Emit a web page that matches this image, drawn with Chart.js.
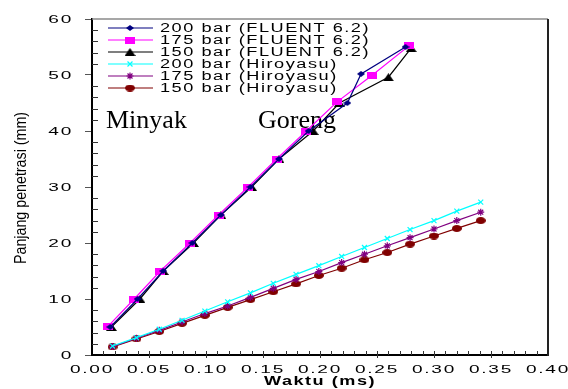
<!DOCTYPE html>
<html>
<head>
<meta charset="utf-8">
<script src="https://cdn.jsdelivr.net/npm/chart.js@4.4.0/dist/chart.umd.min.js"></script>
<style>
  html, body { margin: 0; padding: 0; background: #fff; }
  #wrap { width: 568px; height: 389px; }
</style>
</head>
<body>
<div id="wrap"><canvas id="grafik" width="568" height="389"></canvas></div>
<script>
// Simulasi FLUENT 6.2 (waktu ms -> panjang penetrasi mm)
const fluent200Waktu = [0.016, 0.040, 0.0625, 0.088, 0.113, 0.139, 0.164, 0.190, 0.224, 0.236, 0.275];
const fluent200Panjang = [5, 10, 15, 20, 25, 30, 35, 40, 45, 50.2, 55];
const fluent175Waktu = [0.014, 0.037, 0.060, 0.086, 0.111, 0.137, 0.162, 0.188, 0.215, 0.246, 0.278];
const fluent175Panjang = [5.1, 10, 15, 20, 25, 30, 35, 40, 45.2, 50, 55.2];
const fluent150Waktu = [0.017, 0.042, 0.0625, 0.089, 0.113, 0.140, 0.164, 0.194, 0.217, 0.260, 0.280];
const fluent150Panjang = [5, 10, 15, 20, 25, 30, 35, 40, 45, 49.6, 54.8];

// Korelasi Hiroyasu
const hiroWaktu = [0.018, 0.039, 0.059, 0.079, 0.099, 0.119, 0.139, 0.159, 0.179, 0.199, 0.219, 0.239, 0.259, 0.279, 0.300, 0.320, 0.341];
const hiro200 = [1.6, 3.1, 4.6, 6.2, 7.85, 9.5, 11.1, 12.8, 14.4, 15.95, 17.6, 19.2, 20.8, 22.4, 24.0, 25.7, 27.3];
const hiro175 = [1.5, 3.0, 4.4, 5.9, 7.4, 8.75, 10.3, 11.9, 13.5, 14.9, 16.5, 18.0, 19.5, 20.95, 22.5, 24.0, 25.5];
const hiro150 = [1.43, 2.86, 4.2, 5.65, 7.08, 8.5, 9.9, 11.3, 12.7, 14.2, 15.5, 17.0, 18.3, 19.8, 21.25, 22.6, 24.0];

const namaSeri = [
  '200 bar (FLUENT 6.2)', '175 bar (FLUENT 6.2)', '150 bar (FLUENT 6.2)',
  '200 bar (Hiroyasu)', '175 bar (Hiroyasu)', '150 bar (Hiroyasu)'
];
const xMin = 0, xMax = 0.40, xStep = 0.05;
const yMin = 0, yMax = 60, yStep = 10;

const titikX = (xs, ys) => xs.map((x, i) => ({ x: x, y: ys[i] }));

// penanda kecil yang agak pipih seperti di gambar asli
function penanda(w, h, warna, bentuk) {
  const c = document.createElement('canvas');
  c.width = w; c.height = h;
  const g = c.getContext('2d');
  g.fillStyle = warna;
  g.beginPath();
  if (bentuk === 'elips') g.ellipse(w / 2, h / 2, w / 2, h / 2, 0, 0, Math.PI * 2);
  else if (bentuk === 'belah') { g.moveTo(0, h / 2); g.lineTo(w / 2, 0); g.lineTo(w, h / 2); g.lineTo(w / 2, h); }
  else if (bentuk === 'segitiga') { g.moveTo(0, h); g.lineTo(w / 2, 0); g.lineTo(w, h); }
  else g.rect(0, 0, w, h);
  g.closePath();
  g.fill();
  return c;
}

function seri(i, xs, ys, warna, gaya, r) {
  return {
    label: namaSeri[i],
    data: titikX(xs, ys),
    showLine: true,
    borderColor: warna,
    backgroundColor: warna,
    borderWidth: 1.2,
    pointStyle: gaya,
    pointRadius: r,
    pointBorderWidth: 1.2,
    tension: 0
  };
}

// tulis teks yang direntang mendatar
function tulisLebar(ctx, teks, x, y, sx, align) {
  ctx.save();
  ctx.translate(x, y);
  ctx.scale(sx, 1);
  ctx.textAlign = align;
  ctx.textBaseline = 'middle';
  ctx.fillText(teks, 0, 0);
  ctx.restore();
}

// legenda di dalam area grafik
const legendaDalam = {
  id: 'legendaDalam',
  afterDraw(chart) {
    const ctx = chart.ctx;
    ctx.save();
    ctx.letterSpacing = '1px';
    ctx.font = '12px "Liberation Sans"';
    const sx = 210 / ctx.measureText(namaSeri[0]).width;
    chart.data.datasets.forEach((ds, i) => {
      const y = 28 + i * 12;
      ctx.strokeStyle = ds.borderColor;
      ctx.lineWidth = 1.2;
      ctx.beginPath();
      ctx.moveTo(108, y);
      ctx.lineTo(153, y);
      ctx.stroke();
      ctx.fillStyle = ds.backgroundColor;
      Chart.helpers.drawPoint(ctx, {
        pointStyle: ds.pointStyle, radius: ds.pointRadius, rotation: 0, borderWidth: 1.2
      }, 130, y);
      ctx.fillStyle = '#000';
      tulisLebar(ctx, ds.label, 160, y + 1, sx, 'left');
    });
    ctx.restore();
  }
};

// bingkai, tick kecil, label tick, judul sumbu, teks Minyak Goreng
const hiasan = {
  id: 'hiasan',
  beforeDatasetsDraw(chart) {
    const ctx = chart.ctx;
    const a = chart.chartArea;
    const sx = chart.scales.x, sy = chart.scales.y;
    ctx.save();
    // bingkai atas & kanan
    ctx.strokeStyle = '#8a8a8a';
    ctx.lineWidth = 1.5;
    ctx.beginPath(); ctx.moveTo(a.left, a.top); ctx.lineTo(a.right, a.top); ctx.stroke();
    ctx.strokeStyle = '#222';
    ctx.lineWidth = 2;
    ctx.beginPath(); ctx.moveTo(a.right, a.top); ctx.lineTo(a.right, a.bottom + 1); ctx.stroke();
    // tick kecil
    ctx.strokeStyle = '#333';
    ctx.lineWidth = 1;
    for (let v = yMin + 2; v < yMax; v += 2) {
      if (v % yStep === 0) continue;
      const py = Math.round(sy.getPixelForValue(v)) + 0.5;
      ctx.beginPath(); ctx.moveTo(a.left, py); ctx.lineTo(a.left + 6, py); ctx.stroke();
    }
    for (let k = 1; k < 40; k++) {
      const px = Math.round(sx.getPixelForValue(k / 100)) + 0.5;
      const major = k % 5 === 0;
      ctx.beginPath();
      ctx.moveTo(px, a.bottom + (major ? 3 : 0));
      ctx.lineTo(px, a.bottom - 4);
      ctx.stroke();
    }
    // label tick (dari skala Chart.js), huruf lebar seperti aslinya
    ctx.fillStyle = '#000';
    ctx.font = '11px "Liberation Sans"';
    ctx.letterSpacing = '1px';
    const lebar = 44 / ctx.measureText('0.00').width;
    sx.ticks.forEach(t => {
      const lbl = t.label !== undefined ? t.label : t.value.toFixed(2);
      tulisLebar(ctx, lbl, sx.getPixelForValue(t.value), 370, lebar, 'center');
    });
    sy.ticks.forEach(t => {
      const lbl = t.label !== undefined ? String(t.label) : String(t.value);
      tulisLebar(ctx, lbl, 73, sy.getPixelForValue(t.value) + 1, lebar, 'right');
    });
    ctx.letterSpacing = '0px';
    // teks Minyak Goreng
    ctx.font = '26px "Liberation Serif"';
    ctx.textBaseline = 'alphabetic';
    ctx.fillText('Minyak', 106, 128);
    ctx.fillText('Goreng', 258, 128);
    // judul sumbu y
    ctx.save();
    ctx.translate(22, 188);
    ctx.rotate(-Math.PI / 2);
    ctx.font = '16px "Liberation Sans"';
    const ty = 'Panjang penetrasi (mm)';
    ctx.scale(152 / ctx.measureText(ty).width, 1);
    ctx.textAlign = 'center';
    ctx.textBaseline = 'middle';
    ctx.fillText(ty, 0, 0);
    ctx.restore();
    // judul sumbu x
    ctx.font = 'bold 12px "Liberation Sans"';
    ctx.letterSpacing = '1px';
    const tx = 'Waktu (ms)';
    tulisLebar(ctx, tx, 320, 382, 112 / ctx.measureText(tx).width, 'center');
    ctx.restore();
  }
};

const ctx = document.getElementById('grafik').getContext('2d');
new Chart(ctx, {
  type: 'scatter',
  data: {
    datasets: [
      seri(0, fluent200Waktu, fluent200Panjang, '#000080', penanda(8, 6, '#000080', 'belah'), 4),
      seri(1, fluent175Waktu, fluent175Panjang, '#ff00ff', penanda(10, 7, '#ff00ff', 'kotak'), 5),
      seri(2, fluent150Waktu, fluent150Panjang, '#000000', penanda(11, 8, '#000000', 'segitiga'), 5),
      seri(3, hiroWaktu, hiro200, '#00ffff', 'crossRot', 3.5),
      seri(4, hiroWaktu, hiro175, '#800080', 'star', 3.5),
      seri(5, hiroWaktu, hiro150, '#800000', penanda(10, 7, '#800000', 'elips'), 5)
    ]
  },
  options: {
    responsive: false,
    animation: false,
    devicePixelRatio: 1,
    layout: { padding: { top: 19, right: 20, left: 0, bottom: 0 } },
    plugins: {
      legend: { display: false },
      tooltip: { enabled: false }
    },
    scales: {
      x: {
        type: 'linear',
        min: xMin,
        max: xMax,
        afterFit: s => { s.height = 34; },
        ticks: {
          display: false,
          stepSize: xStep,
          callback: v => v.toFixed(2)
        },
        grid: { drawOnChartArea: false, drawTicks: false },
        border: { color: '#000', width: 2 }
      },
      y: {
        min: yMin,
        max: yMax,
        afterFit: s => { s.width = 92; },
        ticks: {
          display: false,
          stepSize: yStep
        },
        grid: { drawOnChartArea: false, drawTicks: true, tickLength: 7, color: '#555' },
        border: { color: '#000', width: 2 }
      }
    }
  },
  plugins: [hiasan, legendaDalam]
});
</script>
</body>
</html>
